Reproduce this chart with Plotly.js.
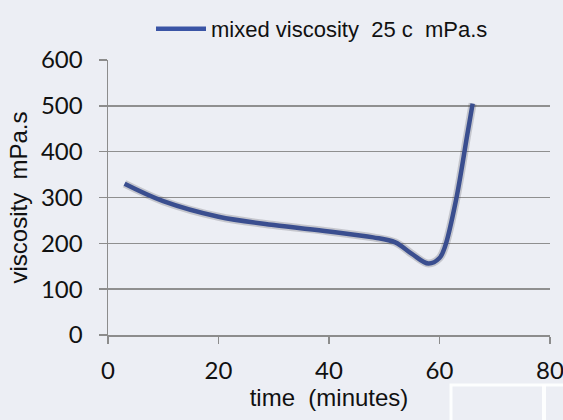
<!DOCTYPE html>
<html>
<head>
<meta charset="utf-8">
<script src="https://cdn.plot.ly/plotly-3.0.1.min.js"></script>
<style>
html,body{margin:0;padding:0;background:#eceef4;}
#chart{width:563px;height:420px;}
</style>
</head>
<body>
<div id="chart"></div>
<script>
const seriesName = 'mixed viscosity  25 c  mPa.s';
const timeMin = [3, 10, 20, 30, 40, 48, 52, 55, 58, 60, 61, 63, 65, 66];
const viscosity = [330, 292, 258, 240, 226, 213, 202, 177, 156, 168, 193, 295, 435, 505];
const xTicks = [0, 20, 40, 60, 80];
const yTicks = [0, 100, 200, 300, 400, 500, 600];

const W = 563, H = 420;
const off = 4;
const m = {l:108, r:13 - off, t:60, b:85 - off};
const pw = W - m.l - m.r, ph = H - m.t - m.b;
const dx = off / pw, dy = off / ph;

const shadow = {
  x: timeMin, y: viscosity, type:'scatter', mode:'lines',
  xaxis:'x2', yaxis:'y2', showlegend:false, hoverinfo:'skip',
  line:{color:'rgba(60,60,70,0.22)', width:8, shape:'spline', smoothing:1}
};
const main = {
  x: timeMin, y: viscosity, type:'scatter', mode:'lines',
  name: seriesName, line:{color:'#3a54a5', width:4.5, shape:'spline', smoothing:1}
};

const tickFont = {family:'Lato, "Open Sans", sans-serif', size:24, color:'#111'};
const titleFont = {family:'"Liberation Sans", Arial, sans-serif', size:24, color:'#111'};
const layout = {
  width:W, height:H,
  margin:m,
  paper_bgcolor:'#eceef4', plot_bgcolor:'rgba(0,0,0,0)',
  showlegend:true,
  legend:{orientation:'h', xref:'container', yref:'container', x:151/W, y:1 - 8/H, xanchor:'left', yanchor:'top',
    itemwidth:50, bgcolor:'rgba(0,0,0,0)', font:{family:'"Liberation Sans", Arial, sans-serif', size:22, color:'#111'}},
  xaxis:{range:[0,80], domain:[0, 1-dx], tickvals:xTicks, ticktext:xTicks.map(String), showgrid:false, zeroline:false,
    showline:true, linecolor:'#8c8c8c', linewidth:1.5, ticks:'outside', ticklen:7, tickcolor:'#8c8c8c', tickwidth:1.5,
    tickfont:tickFont, ticklabelstandoff:7, ticklabeloverflow:'allow', automargin:false, anchor:'y',
    title:{text:'time  (minutes)', font:titleFont, standoff:6}},
  yaxis:{range:[0,600], domain:[dy, 1], tickvals:yTicks, ticktext:yTicks.map(String), showgrid:true, gridcolor:'#8f8f8f', gridwidth:1.5,
    zeroline:false, showline:true, linecolor:'#8c8c8c', linewidth:1.5, ticks:'outside', ticklen:8, tickcolor:'#8c8c8c', tickwidth:1.5,
    tickfont:tickFont, ticklabelstandoff:11, ticklabeloverflow:'allow', automargin:false, anchor:'x',
    title:{text:'viscosity  mPa.s', font:titleFont, standoff:6}},
  xaxis2:{range:[0,80], domain:[dx, 1], overlaying:'x', visible:false, anchor:'y2'},
  yaxis2:{range:[0,600], domain:[0, 1-dy], overlaying:'y', visible:false, anchor:'x2'},
  shapes:[
    {type:'rect', xref:'paper', yref:'paper', x0:(451-m.l)/pw, x1:(566-m.l)/pw, y0:(H-m.b-423)/ph, y1:(H-m.b-385)/ph,
      fillcolor:'rgba(0,0,0,0)', line:{color:'rgba(255,255,255,0.9)', width:3}, layer:'below'},
    {type:'line', xref:'paper', yref:'paper', x0:(544-m.l)/pw, x1:(544-m.l)/pw, y0:(H-m.b-423)/ph, y1:(H-m.b-385)/ph,
      line:{color:'rgba(255,255,255,0.9)', width:4}, layer:'below'}
  ]
};

Plotly.newPlot('chart', [shadow, main], layout, {displayModeBar:false, staticPlot:true});
</script>
</body>
</html>
